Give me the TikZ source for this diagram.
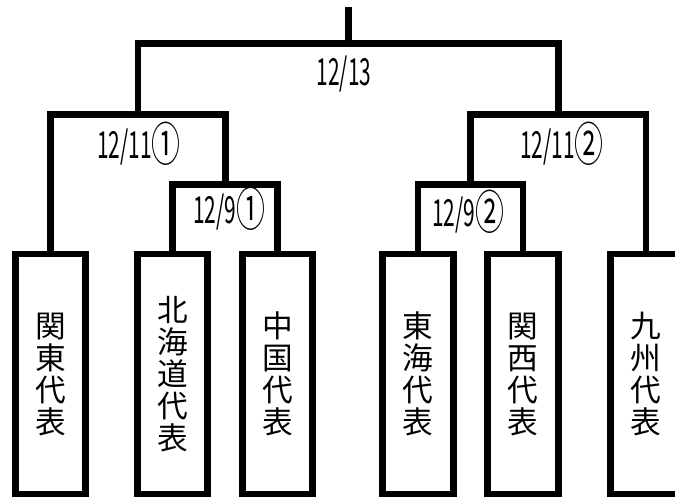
\documentclass[tikz,border=0pt]{standalone}
\usepackage{fontspec}
\newfontfamily\jpfont{Noto Sans CJK JP}
\newfontfamily\labfont[FakeStretch=0.56]{Noto Sans CJK JP}
\newfontfamily\circfont[FakeStretch=0.62]{Noto Sans CJK JP}
\newcommand{\circnum}[1]{\raisebox{-2.5pt}{\circfont\fontsize{35}{35}\selectfont #1}}
\begin{document}
\begin{tikzpicture}[x=0.75pt,y=-0.75pt,
  wire/.style={line width=5.2pt, line join=miter},
  team/.style={draw, line width=5.2pt, minimum width=52.8pt, minimum height=180pt,
    inner sep=0pt, align=center, font=\jpfont\fontsize{23}{24}\selectfont},
  lab/.style={anchor=base, inner sep=0pt, font=\labfont\fontsize{28}{28}\selectfont}]
\useasboundingbox (0,0) rectangle (675,497);
\clip (0,0) rectangle (675,497);
% teams
\node[team] (b1) at (50.5,374) {関\\東\\代\\表};
\node[team] (b2) at (172.5,374) {北\\海\\道\\代\\表};
\node[team] (b3) at (277.5,374) {中\\国\\代\\表};
\node[team] (b4) at (418,374) {東\\海\\代\\表};
\node[team] (b5) at (523,374) {関\\西\\代\\表};
\node[team] (b6) at (646,374) {九\\州\\代\\表};
% junctions
\coordinate (q1) at (225.25,184.5);
\coordinate (q2) at (470.5,184.5);
\coordinate (s1) at (138,114.5);
\coordinate (s2) at (558.25,114.5);
\coordinate (f) at (348.5,43.5);
\coordinate (top) at (348.5,7);
% brackets
\draw[wire] (b2.north) |- (q1) -| (b3.north);
\draw[wire] (b4.north) |- (q2) -| (b5.north);
\draw[wire] (b1.north) |- (s1) -| (q1);
\draw[wire] (q2) |- (s2) -| (b6.north);
\draw[wire] (s1) |- (f) -| (s2);
\draw[wire] (f) -- (top);
% labels
\node[lab] (l13) at (344,85) {12/13};
\node[lab] (l111) at (139,158) {12/11\circnum{①}};
\node[lab] (l91) at (229,223) {12/9\circnum{①}};
\node[lab] (l112) at (562,158) {12/11\circnum{②}};
\node[lab] (l92) at (468,226) {12/9\circnum{②}};
\end{tikzpicture}
\end{document}
